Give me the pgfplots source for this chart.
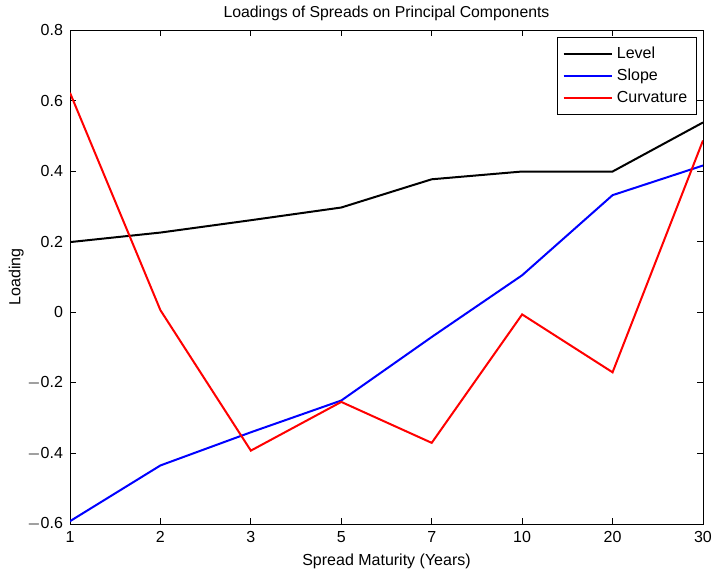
\documentclass[border=0pt]{standalone}
\usepackage{pgfplots}
\pgfplotsset{compat=1.18}
\usepackage{fontspec}
\setmainfont{Liberation Sans}
\begin{document}
\begin{tikzpicture}
\path[use as bounding box] (-35pt,-23pt) rectangle (322.5pt,262pt);
\begin{axis}[
  at={(0,0)}, anchor=south west,
  scale only axis, width=316.5pt, height=247pt,
  xmin=0, xmax=7, ymin=-0.6, ymax=0.8,
  xtick={0,...,7}, xticklabels={1,2,3,5,7,10,20,30},
  ytick={-0.6,-0.4,-0.2,0,0.2,0.4,0.6,0.8},
  yticklabels={$-$0.6,$-$0.4,$-$0.2,0,0.2,0.4,0.6,0.8},
  tick align=inside, major tick length=3pt,
  tick style={black, line width=0.4pt},
  axis line style={line width=0.5pt},
  ticklabel style={font=\fontsize{8}{9}\selectfont},
  /pgf/number format/assume math mode=true,
  title={Loadings of Spreads on Principal Components},
  title style={font=\fontsize{7.9}{9}\selectfont, yshift=-5pt},
  xlabel={Spread Maturity (Years)},
  ylabel={Loading},
  label style={font=\fontsize{8}{9}\selectfont},
  xlabel style={yshift=1pt},
  ylabel style={yshift=-5pt},
  legend style={at={(0.99,0.985)}, anchor=north east, draw=black, line width=0.5pt,
    font=\fontsize{8}{9}\selectfont, row sep=-0.3pt, inner sep=2.5pt},
  legend cell align=left,
  legend image code/.code={\draw[#1, line width=1pt] (0cm,0cm) -- (0.85cm,0cm);},
]
\addplot[black, line width=1pt] coordinates {(0,0.199) (1,0.226) (2,0.261) (3,0.297) (4,0.377) (5,0.399) (6,0.399) (7,0.538)};
\addlegendentry{Level}
\addplot[blue, line width=1pt] coordinates {(0,-0.592) (1,-0.434) (2,-0.340) (3,-0.250) (4,-0.070) (5,0.105) (6,0.332) (7,0.416)};
\addlegendentry{Slope}
\addplot[red, line width=1pt] coordinates {(0,0.622) (1,0.006) (2,-0.392) (3,-0.254) (4,-0.370) (5,-0.006) (6,-0.170) (7,0.487)};
\addlegendentry{Curvature}
\end{axis}
\end{tikzpicture}
\end{document}
